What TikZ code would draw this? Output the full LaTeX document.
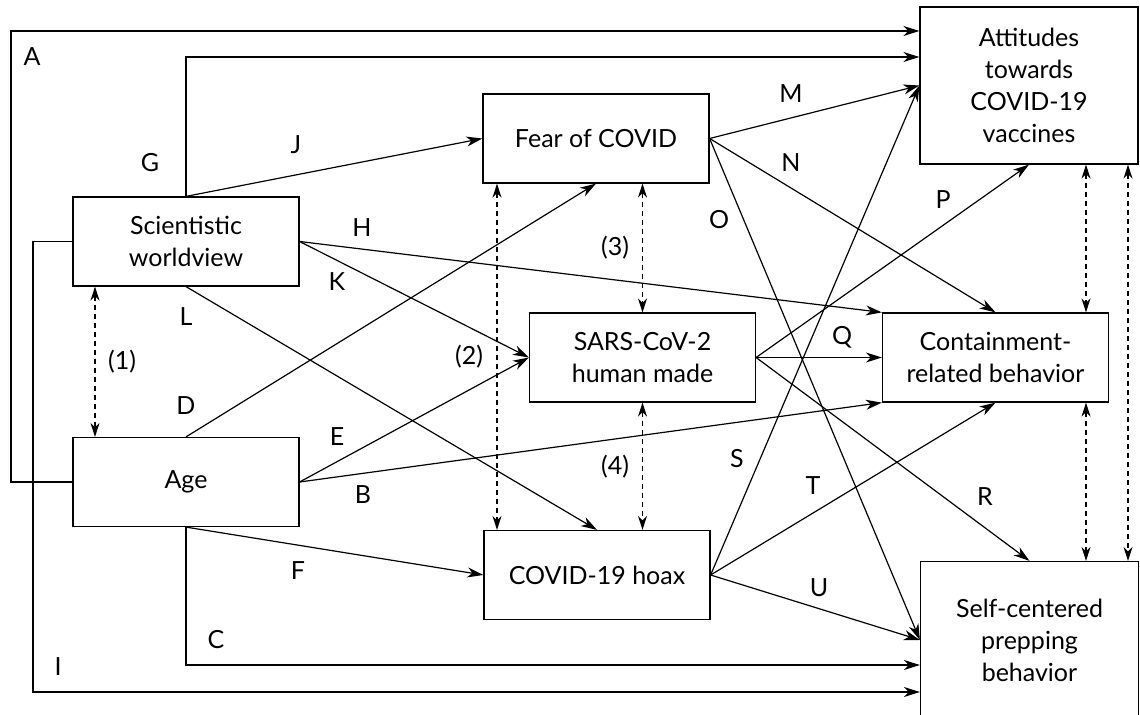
\documentclass[tikz,border=0pt]{standalone}
\usepackage{fontspec}
\setmainfont{Lato}
\usetikzlibrary{arrows.meta}

\begin{document}
\begin{tikzpicture}[x=0.5pt,y=-0.5pt,line width=0.6pt,font=\fontsize{12.5}{16}\selectfont,
  var/.style={shape=rectangle,draw=black,align=center,minimum width=113pt,minimum height=44.5pt,inner sep=0pt},
  varB/.style={var,minimum width=109pt,minimum height=78.5pt},
  arr/.style={-{Stealth[length=8pt,width=5pt,inset=2.4pt]}},
  dbl/.style={{Stealth[length=7pt,width=4.5pt,inset=2.2pt]}-{Stealth[length=7pt,width=4.5pt,inset=2.2pt]},dash pattern=on 2.5pt off 2pt},
  lab/.style={inner sep=0pt}]
\useasboundingbox (0,0) rectangle (1140,715);

\node[var] (sci) at (186,241.5) {Scientistic\\worldview};
\node[var] (age) at (186,482) {Age};
\node[var] (fear) at (596,138.5) {Fear of COVID};
\node[var] (sars) at (642.5,357.5) {SARS-CoV-2\\human made};
\node[var] (hoax) at (597,575) {COVID-19 hoax};
\node[varB] (att) at (1029,85.5) {Attitudes\\towards\\COVID-19\\vaccines};
\node[var] (cont) at (995.5,357.5) {Containment-\\related behavior};
\node[varB] (self) at (1029.5,640) {Self-centered\\prepping\\behavior};

\coordinate (a1) at (11,31);
\coordinate (g1) at (186,57);
\coordinate (c1) at (186,665);
\coordinate (i1) at (33,692);
\coordinate (x1) at (95,0);
\coordinate (x2) at (497,0);
\coordinate (x5) at (1086,0);
\coordinate (x6) at (1128,0);

\draw[arr] (age.west) -| (a1) -- (a1 -| att.west);
\draw[arr] (sci.north) |- (att.west |- g1);
\draw[arr] (age.south) |- (self.west |- c1);
\draw[arr] (sci.west) -| (i1) -- (i1 -| self.west);

\draw[arr] (sci.north) -- (fear.west);
\draw[arr] (sci.east) -- (cont.north west);
\draw[arr] (sci.east) -- (sars.west);
\draw[arr] (sci.south) -- (hoax.north);
\draw[arr] (age.north) -- (fear.south);
\draw[arr] (age.east) -- (sars.west);
\draw[arr] (age.east) -- (cont.south west);
\draw[arr] (age.south) -- (hoax.west);

\draw[arr] (fear.east) -- (att.west);
\draw[arr] (fear.east) -- (cont.north);
\draw[arr] (fear.east) -- (self.west);
\draw[arr] (sars.east) -- (att.south);
\draw[arr] (sars.east) -- (cont.west);
\draw[arr] (sars.east) -- (self.north);
\draw[arr] (hoax.east) -- (att.west);
\draw[arr] (hoax.east) -- (cont.south);
\draw[arr] (hoax.east) -- (self.west);

\draw[dbl] (sci.south -| x1) -- (age.north -| x1);
\draw[dbl] (fear.south -| x2) -- (hoax.north -| x2);
\draw[dbl] (sars.north |- fear.south) -- (sars.north);
\draw[dbl] (sars.south) -- (sars.south |- hoax.north);
\draw[dbl] (att.south -| x5) -- (cont.north -| x5);
\draw[dbl] (cont.south -| x5) -- (self.north -| x5);
\draw[dbl] (att.south -| x6) -- (self.north -| x6);

\node[lab] (lA) at (32,57) {A};
\node[lab] (lB) at (363,495) {B};
\node[lab] (lC) at (216,640) {C};
\node[lab] (lD) at (186,406) {D};
\node[lab] (lE) at (337,437) {E};
\node[lab] (lF) at (298,571) {F};
\node[lab] (lG) at (150,163) {G};
\node[lab] (lH) at (362,228) {H};
\node[lab] (lI) at (58,667) {I};
\node[lab] (lJ) at (296,145) {J};
\node[lab] (lK) at (337,282) {K};
\node[lab] (lL) at (186,317) {L};
\node[lab] (lM) at (791,94) {M};
\node[lab] (lN) at (791,163) {N};
\node[lab] (lO) at (719,220) {O};
\node[lab] (lP) at (943,200) {P};
\node[lab] (lQ) at (842,337) {Q};
\node[lab] (lR) at (985,497) {R};
\node[lab] (lS) at (737,459) {S};
\node[lab] (lT) at (813,486) {T};
\node[lab] (lU) at (819,588) {U};
\node[lab] (l1) at (122,362) {(1)};
\node[lab] (l2) at (469,357) {(2)};
\node[lab] (l3) at (615,248) {(3)};
\node[lab] (l4) at (615,467) {(4)};
\end{tikzpicture}
\end{document}
